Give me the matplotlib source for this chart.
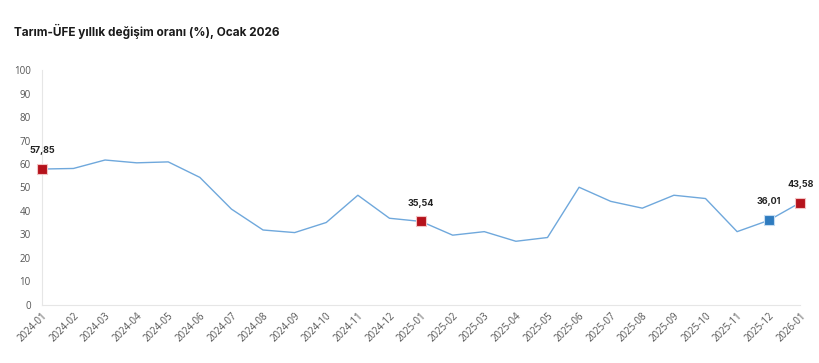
import matplotlib
matplotlib.use("Agg")
import matplotlib.pyplot as plt

months = ["2024-01", "2024-02", "2024-03", "2024-04", "2024-05", "2024-06",
          "2024-07", "2024-08", "2024-09", "2024-10", "2024-11", "2024-12",
          "2025-01", "2025-02", "2025-03", "2025-04", "2025-05", "2025-06",
          "2025-07", "2025-08", "2025-09", "2025-10", "2025-11", "2025-12",
          "2026-01"]
values = [57.85, 58.1, 61.7, 60.5, 60.9, 54.3,
          40.8, 31.9, 30.8, 35.1, 46.7, 36.9,
          35.54, 29.7, 31.2, 27.1, 28.7, 50.1,
          44.1, 41.2, 46.7, 45.3, 31.2, 36.01,
          43.58]

# highlighted points: (index, colour)
highlights = [(0, "#b5121b"), (12, "#b5121b"), (23, "#2e7bbf"), (24, "#b5121b")]

plt.rcParams["font.family"] = ["Open Sans", "DejaVu Sans"]

fig = plt.figure(figsize=(8.2, 3.63), dpi=100)
ax = fig.add_axes([0.051, 0.160, 0.925, 0.647])

x = list(range(len(months)))
ax.plot(x, values, color="#6fa8dc", lw=1.0, zorder=2)

for i, c in highlights:
    edge = "#c4dcf2" if c == "#2e7bbf" else "#f2c4c4"
    ax.plot(x[i], values[i], marker="s", ms=7, color=c, mec=edge,
            mew=0.8, clip_on=False, zorder=3)
    ax.annotate(f"{values[i]:.2f}".replace(".", ","), (x[i], values[i]),
                xytext=(0, 10), textcoords="offset points", ha="center", va="bottom",
                fontsize=6.5, fontweight="bold", color="#222222", family="Inter")

ax.set_xlim(0, 24)
ax.set_ylim(0, 100)
ax.set_yticks(range(0, 101, 10))
ax.set_xticks(x)
ax.set_xticklabels(months, rotation=45, ha="right", rotation_mode="anchor")
ax.tick_params(axis="both", length=0, labelsize=7, colors="#555555")
ax.tick_params(axis="x", pad=4)
ax.tick_params(axis="y", pad=8)

for s in ["top", "right"]:
    ax.spines[s].set_visible(False)
for s in ["left", "bottom"]:
    ax.spines[s].set_color("#e6e6e6")
    ax.spines[s].set_linewidth(0.8)

fig.text(0.017, 0.9, "Tarım-ÜFE yıllık değişim oranı (%), Ocak 2026",
         fontsize=8.5, fontweight="bold", color="#1a1a1a", family="Inter")

fig.savefig("out.png", dpi=100, facecolor="white")
